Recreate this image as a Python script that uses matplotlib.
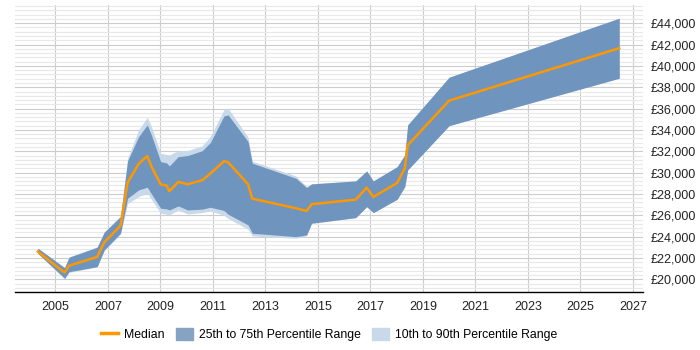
import matplotlib.pyplot as plt
from matplotlib.patches import Patch
from matplotlib.lines import Line2D
from matplotlib.ticker import MultipleLocator, FuncFormatter

plt.rcParams['font.family'] = ['Liberation Sans', 'DejaVu Sans']

# decimal years
years = [2004.33, 2005.35, 2005.52, 2006.59, 2006.86, 2007.48, 2007.75, 2008.17,
         2008.50, 2008.66, 2009.01, 2009.24, 2009.34, 2009.68, 2010.04, 2010.59,
         2010.90, 2011.42, 2011.58, 2012.34, 2012.50, 2014.16, 2014.57, 2014.76,
         2016.44, 2016.86, 2017.11, 2018.02, 2018.31, 2018.42, 2020.00, 2026.48]

median = [22594, 20626, 21282, 22097, 23475, 25031, 29061, 30814,
          31563, 30561, 28911, 28780, 28255, 29127, 28911, 29286,
          29900, 31067, 30973, 28911, 27561, 26662, 26408, 27037,
          27468, 28592, 27721, 29033, 30411, 32566, 36746, 41657]

p25 = [22444, 20101, 20720, 21188, 22750, 24318, 27600, 28377,
       28630, 28000, 26662, 26600, 26500, 26877, 26500, 26580,
       26756, 26450, 26100, 25097, 24318, 24000, 24160, 25256,
       25781, 26812, 26250, 27505, 28687, 30251, 34403, 38845]

p75 = [22913, 21094, 22069, 23006, 24411, 25875, 31100, 33372,
       34468, 33500, 31030, 30900, 30626, 31498, 31600, 32050,
       32810, 35300, 35406, 32904, 30879, 29473, 28600, 28940,
       29220, 30157, 29220, 30561, 31656, 34468, 38939, 44469]

p10 = [22400, 20050, 20650, 21150, 22700, 24250, 27100, 27750,
       28068, 27500, 26193, 26100, 26035, 26500, 26124, 26260,
       26408, 26000, 25700, 24693, 24066, 23850, 24100, 25256,
       25781, 26812, 26250, 27505, 28687, 30251, 34403, 38845]

p90 = [22950, 21100, 22100, 23050, 24450, 25950, 31350, 34000,
       35190, 34300, 31816, 31700, 31656, 32060, 32080, 32500,
       33372, 35900, 36034, 33316, 31066, 29689, 28700, 28960,
       29220, 30157, 29220, 30561, 31656, 34468, 38939, 44469]

fig = plt.figure(figsize=(7, 3.5), dpi=100)
ax = fig.add_axes([0.0214, 0.165, 0.8966, 0.821])

ax.fill_between(years, p10, p90, color='#c8d9ea', linewidth=0, zorder=2)
ax.fill_between(years, p25, p75, color='#6f94bd', linewidth=0, zorder=3)
ax.plot(years, median, color='#ff9800', linewidth=1.8, zorder=4)

ax.set_xlim(2003.46, 2027.37)
ax.set_ylim(18790, 45715)

ax.xaxis.set_major_locator(MultipleLocator(2, offset=1))
ax.xaxis.set_major_formatter(FuncFormatter(lambda v, p: f'{int(round(v))}'))
ax.yaxis.set_major_locator(MultipleLocator(2000))
ax.yaxis.set_minor_locator(MultipleLocator(400))
ax.yaxis.set_major_formatter(FuncFormatter(lambda v, p: f'£{int(v):,}'))
ax.yaxis.tick_right()

ax.grid(True, which='major', axis='both', color='#cccccc', linewidth=0.8, zorder=0)
ax.grid(True, which='minor', axis='y', color='#e8e8e8', linewidth=0.8, zorder=0)
ax.set_axisbelow(True)

for s in ['top', 'left', 'right']:
    ax.spines[s].set_visible(False)
ax.spines['bottom'].set_color('#000000')
ax.spines['bottom'].set_linewidth(1)

ax.tick_params(axis='x', length=0, pad=6, labelsize=9, colors='#222222')
ax.tick_params(axis='y', which='both', length=0, pad=6, labelsize=9, colors='#222222')

handles = [Line2D([0], [0], color='#ff9800', linewidth=2.5),
           Patch(color='#86a3c4'),
           Patch(color='#c8d9ea')]
labels = ['Median', '25th to 75th Percentile Range', '10th to 90th Percentile Range']
fig.legend(handles, labels, loc='center', bbox_to_anchor=(0.47, 0.045), ncol=3,
           frameon=False, fontsize=8.8, handlelength=1.4, handleheight=1.2,
           columnspacing=0.9, handletextpad=0.5)

fig.savefig('out.png', dpi=100)
